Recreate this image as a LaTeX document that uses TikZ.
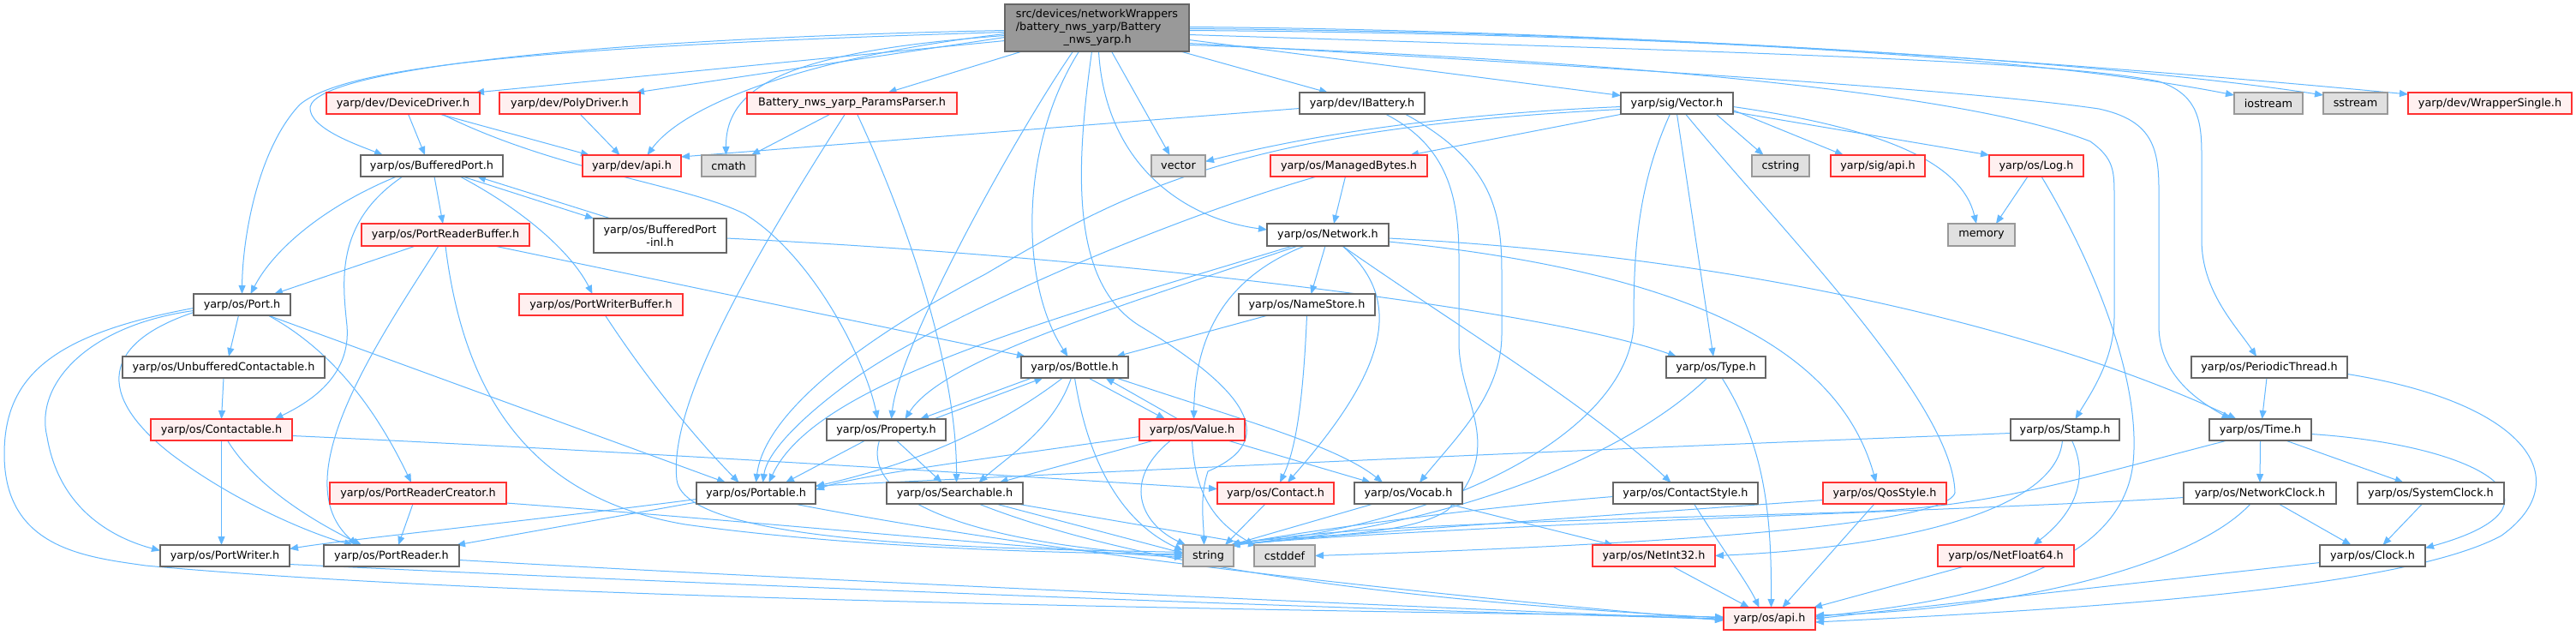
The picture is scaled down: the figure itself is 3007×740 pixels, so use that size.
\documentclass[tikz,border=0pt]{standalone}
\usepackage{fontspec}
\setmainfont{DejaVu Sans}
\usetikzlibrary{arrows.meta,calc}
\definecolor{edgec}{HTML}{63B8FF}
\definecolor{grayb}{HTML}{666666}
\definecolor{extb}{HTML}{999999}
\definecolor{extf}{HTML}{E0E0E0}
\definecolor{redf}{HTML}{FFF0F0}
\definecolor{redb}{HTML}{FF3030}
\pgfdeclarelayer{bg}
\pgfsetlayers{bg,main}
\newcommand{\gnode}[7]{\node[#6,minimum width={#3-#2},minimum height={#5-#4}] (#1) at ({(#2+#3)/2},{(#4+#5)/2}) {#7};}
\begin{document}
\begin{tikzpicture}[x=1pt,y=-1pt,
  box/.style={draw,rectangle,inner sep=0pt,outer sep=0pt,line width=1.3pt,font=\fontsize{12.8}{15}\selectfont},
  wbox/.style={box,draw=grayb,fill=white},
  rbox/.style={box,draw=redb,fill=redf},
  xbox/.style={box,draw=extb,fill=extf},
  rootbox/.style={box,draw=grayb,fill=extb},
  dep/.style={draw=edgec,line width=1pt,-{Triangle[length=10pt,width=8pt]}}]
\useasboundingbox (0,0) rectangle (3007,740);
% nodes
\gnode{root}{1173}{1388}{5}{60}{rootbox,align=left}{src/devices/networkWrappers\\/battery\_nws\_yarp/Battery\\\hspace*{55.7pt}\_nws\_yarp.h}
\gnode{devdrv}{381}{560}{108}{133}{rbox}{yarp/dev/DeviceDriver.h}
\gnode{poly}{583}{747}{108}{133}{rbox}{yarp/dev/PolyDriver.h}
\gnode{params}{872}{1117}{108}{133}{rbox}{Battery\_nws\_yarp\_ParamsParser.h}
\gnode{ibat}{1517}{1663}{108}{133}{wbox}{yarp/dev/IBattery.h}
\gnode{vec}{1892}{2023}{108}{133}{wbox}{yarp/sig/Vector.h}
\gnode{iostream}{2608}{2688}{108}{133}{xbox}{iostream}
\gnode{sstream}{2712}{2787}{108}{133}{xbox}{sstream}
\gnode{wrapper}{2811}{3002}{108}{133}{rbox}{yarp/dev/WrapperSingle.h}
\gnode{bport}{421}{587}{181}{206}{wbox}{yarp/os/BufferedPort.h}
\gnode{devapi}{680}{795}{181}{206}{rbox}{yarp/dev/api.h}
\gnode{cmath}{819}{882}{181}{206}{xbox}{cmath}
\gnode{vector}{1344}{1407}{181}{206}{xbox}{vector}
\gnode{mbytes}{1483}{1666}{181}{206}{rbox}{yarp/os/ManagedBytes.h}
\gnode{cstring}{2045}{2112}{181}{206}{xbox}{cstring}
\gnode{sigapi}{2137}{2247}{181}{206}{rbox}{yarp/sig/api.h}
\gnode{log}{2322}{2432}{181}{206}{rbox}{yarp/os/Log.h}
\gnode{prbuf}{422}{618}{261}{287}{rbox}{yarp/os/PortReaderBuffer.h}
\gnode{bpinl}{693}{848}{255}{295}{wbox,align=center}{yarp/os/BufferedPort\\-inl.h}
\gnode{network}{1479}{1621}{261}{287}{wbox}{yarp/os/Network.h}
\gnode{memory}{2274}{2352}{261}{287}{xbox}{memory}
\gnode{port}{226}{339}{343}{368}{wbox}{yarp/os/Port.h}
\gnode{pwbuf}{606}{797}{343}{368}{rbox}{yarp/os/PortWriterBuffer.h}
\gnode{namestore}{1446}{1605}{343}{368}{wbox}{yarp/os/NameStore.h}
\gnode{unbuf}{143}{379}{416}{441}{wbox}{yarp/os/UnbufferedContactable.h}
\gnode{bottle}{1192}{1317}{416}{441}{wbox}{yarp/os/Bottle.h}
\gnode{type}{1945}{2061}{416}{441}{wbox}{yarp/os/Type.h}
\gnode{periodic}{2558}{2740}{416}{441}{wbox}{yarp/os/PeriodicThread.h}
\gnode{contactable}{176}{341}{489}{514}{rbox}{yarp/os/Contactable.h}
\gnode{property}{965}{1104}{489}{514}{wbox}{yarp/os/Property.h}
\gnode{value}{1330}{1453}{489}{514}{rbox}{yarp/os/Value.h}
\gnode{stamp}{2347}{2474}{489}{514}{wbox}{yarp/os/Stamp.h}
\gnode{time}{2579}{2698}{489}{514}{wbox}{yarp/os/Time.h}
\gnode{prcreator}{385}{591}{563}{588}{rbox}{yarp/os/PortReaderCreator.h}
\gnode{portable}{813}{952}{563}{588}{wbox}{yarp/os/Portable.h}
\gnode{searchable}{1035}{1194}{563}{588}{wbox}{yarp/os/Searchable.h}
\gnode{contact}{1421}{1557}{563}{588}{rbox}{yarp/os/Contact.h}
\gnode{vocab}{1581}{1707}{563}{588}{wbox}{yarp/os/Vocab.h}
\gnode{cstyle}{1883}{2052}{563}{588}{wbox}{yarp/os/ContactStyle.h}
\gnode{qos}{2128}{2272}{563}{588}{rbox}{yarp/os/QosStyle.h}
\gnode{nclock}{2549}{2727}{563}{588}{wbox}{yarp/os/NetworkClock.h}
\gnode{sclock}{2752}{2923}{563}{588}{wbox}{yarp/os/SystemClock.h}
\gnode{pwriter}{187}{338}{636}{661}{wbox}{yarp/os/PortWriter.h}
\gnode{preader}{378}{536}{636}{661}{wbox}{yarp/os/PortReader.h}
\gnode{string}{1381}{1440}{636}{661}{xbox}{string}
\gnode{cstddef}{1464}{1535}{636}{661}{xbox}{cstddef}
\gnode{netint}{1859}{2002}{636}{661}{rbox}{yarp/os/NetInt32.h}
\gnode{netfloat}{2262}{2421}{636}{661}{rbox}{yarp/os/NetFloat64.h}
\gnode{clock}{2708}{2831}{636}{661}{wbox}{yarp/os/Clock.h}
\gnode{osapi}{2012}{2119}{709}{735}{rbox}{yarp/os/api.h}
\begin{pgfonlayer}{bg}
\fill[white] (0,0) rectangle (3007,740);
% root
\draw[dep] ($(root.west)+(0,15)$) -- ($(devdrv.north east)+(-5,0)$);
\draw[dep] ($(root.west)+(0,11)$) -- ($(poly.north east)+(-5,0)$);
\draw[dep] ($(root.south west)+(20,0)$) -- ($(params.north)+(42,0)$);
\draw[dep] ($(root.west)+(0,7)$) .. controls (950,65) and (800,120) .. ($(devapi.north)+(18,0)$);
\draw[dep] ($(root.west)+(0,9)$) .. controls (920,60) and (847,100) .. ($(cmath.north)+(-3,0)$);
\draw[dep] ($(root.south)+(17,0)$) -- ($(vector.north)+(-10,0)$);
\draw[dep] ($(root.south east)+(-10,0)$) -- ($(ibat.north)+(-40,0)$);
\draw[dep] ($(root.east)+(0,14)$) -- ($(vec.west)+(0,-9)$);
\draw[dep] ($(root.east)+(0,3)$) .. controls (2000,40) and (2400,70) .. ($(iostream.north west)+(0,3)$);
\draw[dep] ($(root.east)+(0,1)$) .. controls (2000,38) and (2500,78) .. ($(sstream.north west)+(0,3)$);
\draw[dep] ($(root.east)+(0,-1)$) .. controls (2000,36) and (2600,90) .. ($(wrapper.north west)+(0,2)$);
\draw[dep] ($(root.east)+(0,18)$) .. controls (1900,80) and (2300,105) .. (2450,127) .. controls (2510,140) and (2520,170) .. (2520,220) -- (2520,380) .. controls (2520,440) and (2570,470) .. ($(time.north)+(-35,0)$);
\draw[dep] ($(root.east)+(0,8)$) .. controls (2000,60) and (2400,70) .. (2520,95) .. controls (2565,110) and (2570,140) .. (2570,180) -- (2570,280) .. controls (2570,340) and (2610,380) .. ($(periodic.north)+(-15,0)$);
\draw[dep] ($(root.east)+(0,20)$) .. controls (1900,70) and (2300,110) .. (2440,165) .. controls (2468,185) and (2468,200) .. (2468,230) -- (2468,370) .. controls (2468,420) and (2440,460) .. ($(stamp.north)+(12,0)$);
\draw[dep] ($(root.south)+(2,0)$) .. controls (1290,190) and (1380,255) .. ($(network.west)+(0,-6)$);
\draw[dep] ($(root.south)+(-28,0)$) .. controls (1190,150) and (1050,400) .. ($(property.north)+(6,0)$);
\draw[dep] ($(root.south)+(-21,0)$) .. controls (1190,170) and (1190,330) .. ($(bottle.north)+(-8,0)$);
\draw[dep] ($(root.south)+(-6,0)$) .. controls (1255,200) and (1250,330) .. (1330,380) .. controls (1480,470) and (1480,520) .. (1410,550) .. controls (1400,580) and (1405,610) .. ($(string.north)+(-5,0)$);
\draw[dep] ($(root.west)+(0,3)$) .. controls (700,45) and (370,80) .. (362,125) .. controls (360,150) and (420,170) .. ($(bport.north)+(-57,0)$);
\draw[dep] ($(root.west)+(0,5)$) .. controls (600,55) and (400,80) .. (350,122) .. controls (300,175) and (283,280) .. (port.north);
% DeviceDriver, PolyDriver, params
\draw[dep] ($(devdrv.south)+(6,0)$) -- ($(bport.north)+(-8,0)$);
\draw[dep] ($(devdrv.south)+(42,0)$) -- ($(devapi.north west)+(8,0)$);
\draw[dep] ($(devdrv.south)+(45,0)$) .. controls (650,200) and (800,215) .. (870,250) .. controls (950,300) and (1010,420) .. ($(property.north)+(-10,0)$);
\draw[dep] ($(poly.south)+(12,0)$) -- ($(devapi.north)+(-14,0)$);
\draw[dep] ($(params.south)+(-25,0)$) -- ($(cmath.north east)+(-5,0)$);
\draw[dep] ($(params.south)+(-8,0)$) .. controls (880,300) and (780,470) .. (790,560) .. controls (800,640) and (1200,640) .. ($(string.west)+(0,-4)$);
\draw[dep] ($(params.south)+(6,0)$) .. controls (1060,260) and (1117,430) .. ($(searchable.north)+(2,0)$);
% IBattery
\draw[dep] ($(ibat.west)+(0,6)$) -- ($(devapi.north east)+(0,2)$);
\draw[dep] ($(ibat.south)+(27,0)$) .. controls (1690,170) and (1703,230) .. (1703,300) -- (1703,400) .. controls (1703,470) and (1760,520) .. (1690,595) .. controls (1640,630) and (1480,625) .. ($(string.north east)+(-3,0)$);
\draw[dep] ($(ibat.south)+(50,0)$) .. controls (1745,190) and (1753,250) .. (1753,320) -- (1753,390) .. controls (1753,460) and (1700,510) .. ($(vocab.north)+(13,0)$);
% Vector
\draw[dep] ($(vec.west)+(0,4)$) .. controls (1650,135) and (1500,165) .. ($(vector.east)+(0,-5)$);
\draw[dep] ($(vec.west)+(0,7)$) .. controls (1450,150) and (1320,220) .. (1150,320) .. controls (960,420) and (890,500) .. (portable.north);
\draw[dep] ($(vec.south west)+(2,0)$) -- ($(mbytes.north east)+(-20,0)$);
\draw[dep] (vec.south) .. controls (1975,250) and (1990,350) .. ($(type.north)+(-3,0)$);
\draw[dep] ($(vec.south)+(-8,0)$) .. controls (1910,220) and (1907,300) .. (1907,380) .. controls (1900,500) and (1700,610) .. ($(string.north east)+(-3,0)$);
\draw[dep] ($(vec.south east)+(-20,0)$) -- ($(cstring.north)+(-20,0)$);
\draw[dep] ($(vec.east)+(0,8)$) -- ($(sigapi.north)+(-40,0)$);
\draw[dep] ($(vec.east)+(0,10)$) -- (log.north west);
\draw[dep] ($(vec.east)+(0,4)$) .. controls (2200,150) and (2290,190) .. ($(memory.north)+(-6,0)$);
\draw[dep] ($(vec.south)+(10,0)$) .. controls (2080,270) and (2280,470) .. (2282,575) .. controls (2270,620) and (1800,640) .. (cstddef.east);
% ManagedBytes, Log
\draw[dep] ($(mbytes.south)+(-4,0)$) -- ($(network.north)+(7,0)$);
\draw[dep] ($(mbytes.south west)+(54,0)$) .. controls (1350,260) and (1100,370) .. (1000,440) .. controls (930,490) and (895,530) .. ($(portable.north)+(8,0)$);
\draw[dep] ($(log.south)+(-10,0)$) -- ($(memory.north)+(17,0)$);
\draw[dep] ($(log.south)+(6,0)$) .. controls (2440,300) and (2500,440) .. (2490,540) .. controls (2475,680) and (2250,705) .. ($(osapi.east)+(0,-2)$);
% Network
\draw[dep] ($(network.south)+(-3,0)$) -- ($(namestore.north)+(5,0)$);
\draw[dep] ($(network.east)+(0,4)$) .. controls (2050,300) and (2400,390) .. ($(time.north)+(-28,0)$);
\draw[dep] ($(network.east)+(0,8)$) .. controls (2000,320) and (2150,420) .. ($(qos.north)+(-10,0)$);
\draw[dep] ($(network.south)+(17,0)$) .. controls (1700,380) and (1850,470) .. ($(cstyle.north)+(-17,0)$);
\draw[dep] ($(network.south)+(17,0)$) .. controls (1640,350) and (1620,430) .. ($(contact.north)+(14,0)$);
\draw[dep] ($(network.south west)+(44,0)$) .. controls (1440,320) and (1395,380) .. ($(value.north)+(2,0)$);
\draw[dep] ($(network.south west)+(36,0)$) .. controls (1300,360) and (1100,420) .. ($(property.north)+(22,0)$);
\draw[dep] ($(network.south west)+(30,0)$) .. controls (1200,380) and (950,450) .. ($(portable.north)+(15,0)$);
\draw[dep] ($(namestore.south west)+(34,0)$) -- ($(bottle.north east)+(-14,0)$);
\draw[dep] (namestore.south) .. controls (1522,450) and (1515,520) .. ($(contact.north)+(5,0)$);
% BufferedPort
\draw[dep] ($(bport.south)+(-41,0)$) .. controls (380,240) and (320,290) .. ($(port.north)+(10,0)$);
\draw[dep] ($(bport.south)+(3,0)$) -- ($(prbuf.north)+(-3,0)$);
\draw[dep] ($(bport.south)+(-34,0)$) .. controls (390,260) and (400,330) .. (405,380) .. controls (410,440) and (360,470) .. ($(contactable.north)+(62,0)$);
\draw[dep] ($(bport.south)+(36,0)$) -- (bpinl.north west);
\draw[dep] ($(bpinl.north west)+(20,0)$) -- ($(bport.south east)+(-30,0)$);
\draw[dep] ($(bport.south)+(33,0)$) .. controls (620,250) and (670,300) .. ($(pwbuf.north)+(-10,0)$);
\draw[dep] ($(bpinl.east)+(0,3)$) .. controls (1300,300) and (1800,360) .. ($(type.north west)+(12,0)$);
% PortReaderBuffer, PortWriterBuffer
\draw[dep] ($(prbuf.south)+(-35,0)$) -- ($(port.north east)+(-19,0)$);
\draw[dep] ($(prbuf.south)+(-8,0)$) .. controls (440,400) and (330,560) .. ($(preader.north)+(-40,0)$);
\draw[dep] (prbuf.south) .. controls (540,450) and (610,580) .. (800,612) .. controls (1000,640) and (1250,646) .. ($(string.west)+(0,-2)$);
\draw[dep] ($(prbuf.south east)+(-41,0)$) -- ($(bottle.north west)+(5,0)$);
\draw[dep] ($(pwbuf.south)+(5,0)$) .. controls (760,450) and (820,520) .. ($(portable.north)+(-20,0)$);
% Port
\draw[dep] ($(port.south)+(-4,0)$) -- ($(unbuf.north)+(6,0)$);
\draw[dep] ($(port.south east)+(-26,0)$) .. controls (390,410) and (440,480) .. ($(prcreator.north)+(-8,0)$);
\draw[dep] ($(port.south east)+(-26,0)$) -- ($(portable.north west)+(34,0)$);
\draw[dep] ($(port.west)+(0,7)$) .. controls (100,380) and (40,450) .. (55,510) .. controls (70,600) and (140,630) .. ($(pwriter.west)+(0,-6)$);
\draw[dep] ($(port.west)+(0,9)$) .. controls (120,400) and (110,460) .. (200,530) .. controls (280,590) and (370,625) .. ($(preader.north)+(-45,0)$);
\draw[dep] ($(port.west)+(0,4)$) .. controls (60,390) and (5,440) .. (5,530) .. controls (5,640) and (100,650) .. (170,660) .. controls (600,700) and (1500,712) .. ($(osapi.west)+(0,-2)$);
\draw[dep] (unbuf.south) -- (contactable.north);
% Contactable, PortReaderCreator, PortWriter, PortReader
\draw[dep] (contactable.south) -- ($(pwriter.north)+(-4,0)$);
\draw[dep] ($(contactable.south)+(7,0)$) .. controls (300,570) and (370,610) .. ($(preader.north)+(-35,0)$);
\draw[dep] ($(contactable.east)+(0,7)$) .. controls (700,525) and (1100,550) .. ($(contact.west)+(0,-5)$);
\draw[dep] ($(prcreator.south)+(-6,0)$) -- ($(preader.north)+(8,0)$);
\draw[dep] ($(prcreator.south east)+(0,-1)$) .. controls (900,610) and (1200,640) .. ($(string.west)+(0,2)$);
\draw[dep] ($(pwriter.east)+(0,10)$) .. controls (1000,690) and (1700,715) .. (osapi.west);
\draw[dep] ($(preader.east)+(0,5)$) .. controls (1000,680) and (1700,710) .. ($(osapi.west)+(0,1)$);
% Portable
\draw[dep] ($(portable.south west)+(0,-2)$) -- ($(preader.north east)+(-3,0)$);
\draw[dep] ($(portable.west)+(0,7)$) .. controls (600,610) and (400,630) .. ($(pwriter.east)+(0,-8)$);
\draw[dep] ($(portable.south east)+(-25,0)$) .. controls (1300,660) and (1800,705) .. ($(osapi.west)+(0,2)$);
% Property, Bottle, Value
\draw[dep] ($(property.north east)+(-14,0)$) -- ($(bottle.south)+(-37,0)$);
\draw[dep] ($(bottle.south)+(-50,0)$) -- ($(property.north east)+(-30,0)$);
\draw[dep] ($(property.south)+(12,0)$) -- ($(searchable.north)+(-15,0)$);
\draw[dep] ($(property.south west)+(45,0)$) -- ($(portable.north east)+(-35,0)$);
\draw[dep] ($(property.south)+(-8,0)$) .. controls (1000,600) and (1200,640) .. (string.west);
\draw[dep] ($(bottle.south)+(16,0)$) -- ($(value.north west)+(30,0)$);
\draw[dep] ($(value.north west)+(45,0)$) -- ($(bottle.south)+(36,0)$);
\draw[dep] ($(bottle.south)+(-4,0)$) .. controls (1230,500) and (1180,530) .. ($(searchable.north)+(28,0)$);
\draw[dep] ($(bottle.south)+(-14,0)$) .. controls (1150,510) and (1050,545) .. ($(portable.east)+(0,-8)$);
\draw[dep] (bottle.south) .. controls (1270,540) and (1310,610) .. ($(string.west)+(0,-6)$);
\draw[dep] ($(bottle.south east)+(-14,0)$) .. controls (1450,490) and (1560,520) .. ($(vocab.north)+(-30,0)$);
\draw[dep] ($(value.south west)+(17,0)$) -- ($(searchable.north)+(52,0)$);
\draw[dep] ($(value.west)+(0,8)$) .. controls (1150,535) and (1000,555) .. ($(portable.east)+(0,-4)$);
\draw[dep] ($(value.south)+(-25,0)$) .. controls (1310,560) and (1330,610) .. ($(string.north west)+(3,0)$);
\draw[dep] (value.south) .. controls (1395,580) and (1420,610) .. (cstddef.north west);
\draw[dep] ($(value.south east)+(-20,0)$) -- ($(vocab.north)+(-44,0)$);
% Searchable, Contact, Vocab
\draw[dep] ($(searchable.south)+(48,0)$) -- ($(string.west)+(0,-3)$);
\draw[dep] ($(searchable.south east)+(-7,0)$) -- ($(cstddef.north west)+(3,0)$);
\draw[dep] ($(searchable.south)+(28,0)$) .. controls (1350,670) and (1700,705) .. ($(osapi.west)+(0,-1)$);
\draw[dep] ($(contact.south)+(-12,0)$) -- ($(string.north east)+(-10,0)$);
\draw[dep] ($(vocab.south west)+(22,0)$) -- ($(string.north east)+(-3,0)$);
\draw[dep] ($(vocab.south east)+(-17,0)$) -- ($(netint.north west)+(24,0)$);
% Type, ContactStyle, QosStyle, NetInt32, NetFloat64
\draw[dep] ($(type.south)+(-10,0)$) .. controls (1900,530) and (1700,615) .. ($(string.north east)+(-3,0)$);
\draw[dep] ($(type.south)+(7,0)$) .. controls (2060,520) and (2068,600) .. ($(osapi.north)+(2,0)$);
\draw[dep] ($(cstyle.west)+(0,4)$) .. controls (1750,590) and (1550,615) .. ($(string.north east)+(-3,0)$);
\draw[dep] ($(cstyle.south)+(10,0)$) .. controls (2010,640) and (2040,680) .. ($(osapi.north)+(-12,0)$);
\draw[dep] ($(qos.west)+(0,8)$) .. controls (1900,600) and (1600,620) .. ($(string.north east)+(-3,0)$);
\draw[dep] ($(qos.south)+(-12,0)$) -- ($(osapi.north)+(15,0)$);
\draw[dep] ($(netint.south)+(22,0)$) -- ($(osapi.north west)+(30,0)$);
\draw[dep] ($(netfloat.south west)+(31,0)$) -- ($(osapi.north east)+(-2,0)$);
% Stamp
\draw[dep] ($(stamp.west)+(0,4)$) .. controls (1700,530) and (1100,560) .. ($(portable.north east)+(0,4)$);
\draw[dep] ($(stamp.south)+(-3,0)$) .. controls (2400,600) and (2200,640) .. (netint.east);
\draw[dep] ($(stamp.south)+(8,0)$) .. controls (2440,560) and (2420,600) .. ($(netfloat.north)+(32,0)$);
% PeriodicThread, Time, clocks
\draw[dep] ($(periodic.south)+(-3,0)$) -- ($(time.north)+(2,0)$);
\draw[dep] ($(periodic.east)+(0,8)$) .. controls (2950,470) and (3010,560) .. (2920,625) .. controls (2800,690) and (2400,712) .. ($(osapi.east)+(0,4)$);
\draw[dep] (time.south) -- (nclock.north);
\draw[dep] ($(time.south east)+(-30,0)$) -- ($(sclock.north)+(-32,0)$);
\draw[dep] ($(time.east)+(0,5)$) .. controls (2900,520) and (3010,590) .. ($(clock.east)+(0,-9)$);
\draw[dep] ($(time.south west)+(21,0)$) .. controls (2420,560) and (2320,594) .. (2150,598) .. controls (1800,608) and (1550,615) .. ($(string.north east)+(-3,0)$);
\draw[dep] ($(nclock.south)+(22,0)$) -- ($(clock.north)+(-25,0)$);
\draw[dep] ($(nclock.west)+(0,5)$) .. controls (2350,594) and (1700,612) .. ($(string.north east)+(-3,0)$);
\draw[dep] ($(nclock.south)+(-11,0)$) .. controls (2560,660) and (2350,712) .. ($(osapi.east)+(0,-4)$);
\draw[dep] ($(sclock.south)+(-10,0)$) -- ($(clock.north)+(12,0)$);
\draw[dep] ($(clock.west)+(0,8)$) -- (osapi.east);
\end{pgfonlayer}
\end{tikzpicture}
\end{document}
